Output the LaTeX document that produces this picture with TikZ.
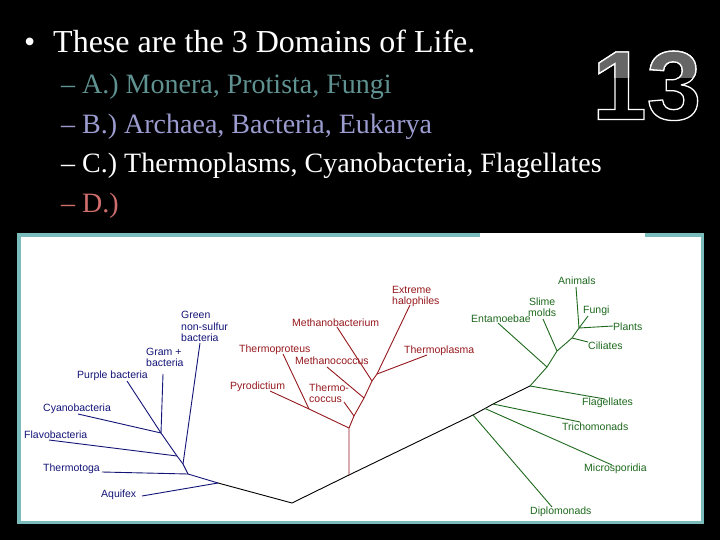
\documentclass[tikz,border=0pt]{standalone}
\usepackage{fontspec}
\setmainfont{Liberation Serif}
\newfontfamily\treefont{Liberation Sans}
\newfontfamily\logofont{Liberation Sans}
\definecolor{panelteal}{RGB}{122,188,188}
\definecolor{itemA}{RGB}{96,146,146}
\definecolor{itemB}{RGB}{156,156,208}
\definecolor{itemD}{RGB}{208,110,110}
\definecolor{bactcol}{RGB}{20,20,120}
\definecolor{archcol}{RGB}{150,25,30}
\definecolor{eukcol}{RGB}{30,105,30}
\tikzset{
  bline/.style={draw=bactcol, line width=0.9},
  aline/.style={draw=archcol, line width=0.9},
  eline/.style={draw=eukcol, line width=0.9},
  tline/.style={draw=black, line width=0.9},
  lab/.style={inner sep=0, anchor=west, align=left,
    font=\treefont\fontsize{10.5}{11.5}\selectfont},
  blab/.style={lab, text=bactcol},
  alab/.style={lab, text=archcol},
  elab/.style={lab, text=eukcol},
  ttl/.style={inner sep=0, anchor=base west, font=\fontsize{32}{38}\selectfont},
  itm/.style={inner sep=0, anchor=base west, font=\fontsize{28}{34}\selectfont},
}
\begin{document}
\begin{tikzpicture}[x=1pt,y=-1pt]
\fill[black] (0,0) rectangle (720,540);
\useasboundingbox (0,0) rectangle (720,540);

% slide text
\node[ttl, text=white] (bul) at (24,53) {•};
\node[ttl, text=white] (title) at (53,53) {These are the 3 Domains of Life.};
\node[itm, text=itemA] (ia) at (61,94) {– A.) Monera, Protista, Fungi};
\node[itm, text=itemB] (ib) at (61,133.5) {– B.) Archaea, Bacteria, Eukarya};
\node[itm, text=white] (ic) at (61,173) {– C.) Thermoplasms, Cyanobacteria, Flagellates};
\node[itm, text=itemD] (id) at (61,212.5) {– D.)};

% panel
\fill[white] (17,233) rectangle (704,524);
\draw[panelteal, line width=3.5] (480,234.75) -- (18.75,234.75) -- (18.75,522.25) -- (702.25,522.25) -- (702.25,234.75) -- (645,234.75);

% ---------- Bacteria ----------
\node[blab] (green) at (181,326.5) {Green\\non-sulfur\\bacteria};
\node[blab] (gram) at (146,357.5) {Gram +\\bacteria};
\node[blab] (purple) at (77,376) {Purple bacteria};
\node[blab] (cyano) at (43,409) {Cyanobacteria};
\node[blab] (flavo) at (24,435) {Flavobacteria};
\node[blab] (thermotoga) at (43,469) {Thermotoga};
\node[blab] (aquifex) at (101,495) {Aquifex};

\coordinate (b1) at (161,433);
\coordinate (b2) at (177,456);
\coordinate (b3) at (183,464);
\coordinate (b4) at (188,474);
\coordinate (b5) at (218,483);
\coordinate (gnE) at (200,343);
\coordinate (gpE) at (163,374);
\coordinate (puE) at (127,381);
\coordinate (cyE) at (78,414);
\coordinate (flE) at (49,440);
\coordinate (ttE) at (102,472);
\coordinate (aqE) at (142,496);

\draw[bline] (b1) -- (b2) -- (b3) -- (b4) -- (b5);
\draw[bline] (b1) -- (gpE);
\draw[bline] (b1) -- (puE);
\draw[bline] (b1) -- (cyE);
\draw[bline] (b2) -- (flE);
\draw[bline] (b3) -- (gnE);
\draw[bline] (b4) -- (ttE);
\draw[bline] (b5) -- (aqE);

% ---------- main trunk ----------
\coordinate (root) at (292,503);
\coordinate (a0) at (349,475);
\coordinate (ed) at (473,415);
\coordinate (em) at (485,408.5);
\coordinate (et) at (493,404);
\coordinate (e0) at (530,386);
\draw[tline] (b5) -- (root) -- (a0) -- (ed) -- (em) -- (et) -- (e0);

% ---------- Archaea ----------
\node[alab] (halo) at (392,296.5) {Extreme\\halophiles};
\node[alab] (mbac) at (292,323) {Methanobacterium};
\node[alab] (tprot) at (239,350) {Thermoproteus};
\node[alab] (mcoc) at (295,361) {Methanococcus};
\node[alab] (tplas) at (404,351) {Thermoplasma};
\node[alab] (pyro) at (230,387) {Pyrodictium};
\node[alab] (tcoc) at (309,393) {Thermo-\\coccus};

\coordinate (a1) at (349,428);
\coordinate (atc) at (354,416);
\coordinate (amc) at (364,398);
\coordinate (amb) at (372,381);
\coordinate (atop) at (377,374);
\coordinate (ap) at (309,409);
\coordinate (pyE) at (270,391);
\coordinate (tpE) at (283,354);
\coordinate (tcE) at (344,402);
\coordinate (mcE) at (327,367);
\coordinate (mbE) at (337,327);
\coordinate (haE) at (410,305);
\coordinate (tlE) at (427,355);

\draw[aline] (a0) -- (a1) -- (atc) -- (amc) -- (amb) -- (atop);
\draw[aline] (a1) -- (ap);
\draw[aline] (ap) -- (pyE);
\draw[aline] (ap) -- (tpE);
\draw[aline] (atc) -- (tcE);
\draw[aline] (amc) -- (mcE);
\draw[aline] (amb) -- (mbE);
\draw[aline] (atop) -- (haE);
\draw[aline] (atop) -- (tlE);

% ---------- Eukarya ----------
\node[elab] (animals) at (558,281) {Animals};
\node[elab, align=center] (slime) at (528,307) {Slime\\molds};
\node[elab] (fungi) at (583,311) {Fungi};
\node[elab] (entam) at (471,319) {Entamoebae};
\node[elab] (plants) at (613,327) {Plants};
\node[elab] (cili) at (588,346) {Ciliates};
\node[elab] (flag) at (582,403) {Flagellates};
\node[elab] (trich) at (562,427) {Trichomonads};
\node[elab] (micro) at (584,469) {Microsporidia};
\node[elab] (diplo) at (530,512) {Diplomonads};

\coordinate (een) at (547,367);
\coordinate (esl) at (557,351);
\coordinate (eci) at (572,338);
\coordinate (ecr) at (579,328);
\coordinate (dpE) at (552,507);
\coordinate (miE) at (612,465);
\coordinate (trE) at (580,422);
\coordinate (fgE) at (605,399);
\coordinate (enE) at (498,323);
\coordinate (slE) at (543,319);
\coordinate (ciE) at (588,342);
\coordinate (anE) at (576,287);
\coordinate (fuE) at (588,316);
\coordinate (plE) at (613,326);

\draw[eline] (e0) -- (een) -- (esl) -- (eci) -- (ecr);
\draw[eline] (ed) -- (dpE);
\draw[eline] (em) -- (miE);
\draw[eline] (et) -- (trE);
\draw[eline] (e0) -- (fgE);
\draw[eline] (een) -- (enE);
\draw[eline] (esl) -- (slE);
\draw[eline] (eci) -- (ciE);
\draw[eline] (ecr) -- (anE);
\draw[eline] (ecr) -- (fuE);
\draw[eline] (ecr) -- (plE);

% ---------- slide number logo ----------
\begin{scope}
\node[inner sep=0, anchor=base west, text=white] (logo) at (592,119.5)
  {\logofont\bfseries\fontsize{98}{98}\selectfont\special{pdf:literal direct 2 Tr 1.3 w 0 0 0 rg 1 1 1 RG}13\special{pdf:literal direct 0 Tr 1 1 1 rg}};
\end{scope}
\begin{scope}
\clip (580,30) rectangle (715,78);
\node[inner sep=0, anchor=base west, text=white] (logotop) at (592,119.5)
  {\logofont\bfseries\fontsize{98}{98}\selectfont\special{pdf:literal direct 2 Tr 1.3 w 0.4 0.4 0.4 rg 1 1 1 RG}13\special{pdf:literal direct 0 Tr 1 1 1 rg}};
\end{scope}
\end{tikzpicture}
\end{document}
